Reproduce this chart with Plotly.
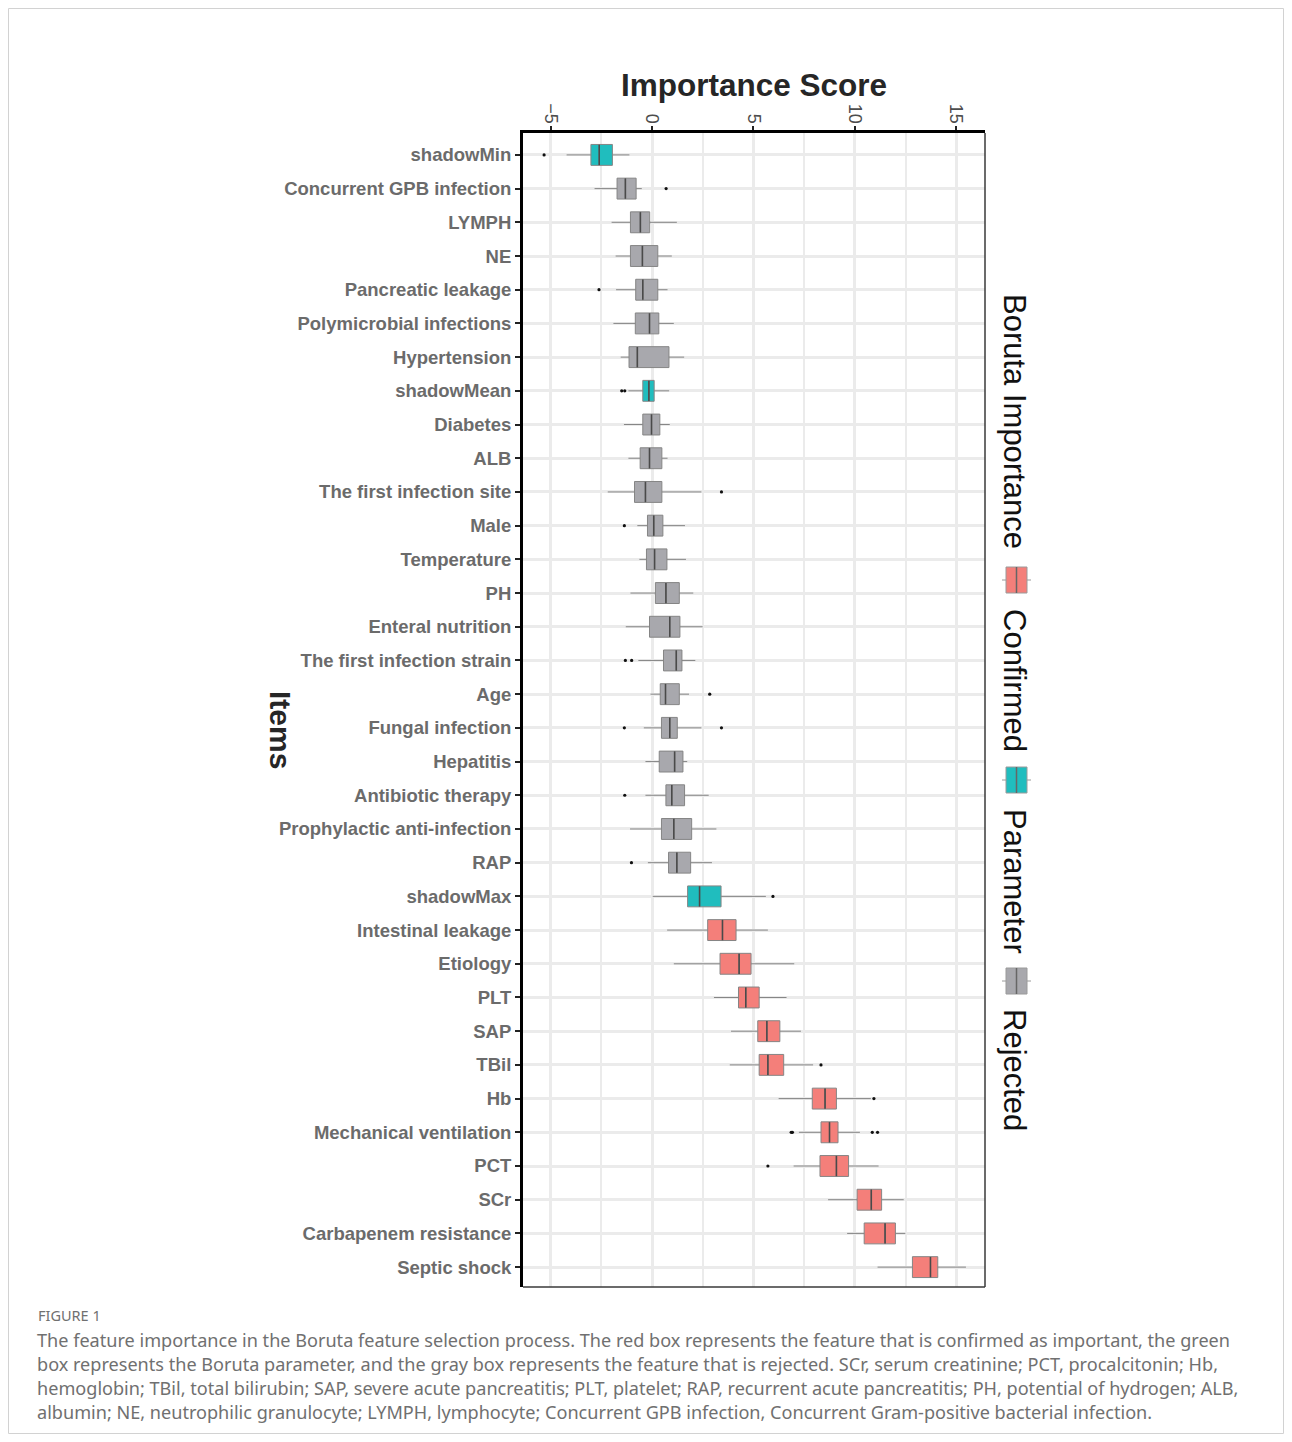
import plotly.graph_objects as go

# ---------------- data ----------------
items = ["shadowMin", "Concurrent GPB infection", "LYMPH", "NE", "Pancreatic leakage",
         "Polymicrobial infections", "Hypertension", "shadowMean", "Diabetes", "ALB",
         "The first infection site", "Male", "Temperature", "PH", "Enteral nutrition",
         "The first infection strain", "Age", "Fungal infection", "Hepatitis",
         "Antibiotic therapy", "Prophylactic anti-infection", "RAP", "shadowMax",
         "Intestinal leakage", "Etiology", "PLT", "SAP", "TBil", "Hb",
         "Mechanical ventilation", "PCT", "SCr", "Carbapenem resistance", "Septic shock"]

decision = (["Parameter"] + ["Rejected"] * 6 + ["Parameter"] + ["Rejected"] * 14 +
            ["Parameter"] + ["Confirmed"] * 11)

lower_whisker = [-4.22, -2.84, -2.00, -1.80, -1.78, -1.91, -1.55, -1.17, -1.39, -1.17,
                 -2.19, -0.73, -0.63, -1.07, -1.30, -0.68, -0.08, -0.41, -0.33, -0.33,
                 -1.09, -0.21, 0.03, 0.74, 1.07, 3.05, 3.89, 3.83, 6.24, 7.24,
                 6.98, 8.68, 9.62, 11.12]
q1 = [-3.02, -1.73, -1.07, -1.07, -0.81, -0.83, -1.14, -0.46, -0.46, -0.59,
      -0.87, -0.23, -0.28, 0.16, -0.13, 0.56, 0.40, 0.46, 0.35, 0.68,
      0.46, 0.81, 1.75, 2.74, 3.35, 4.26, 5.21, 5.28, 7.90, 8.33,
      8.28, 10.11, 10.46, 12.84]
median = [-2.61, -1.32, -0.58, -0.48, -0.46, -0.13, -0.73, -0.16, -0.03, -0.13,
          -0.33, 0.08, 0.12, 0.68, 0.87, 1.19, 0.66, 0.87, 1.11, 0.97,
          1.07, 1.22, 2.34, 3.47, 4.29, 4.62, 5.66, 5.71, 8.53, 8.75,
          9.09, 10.81, 11.49, 13.73]
q3 = [-1.96, -0.79, -0.12, 0.28, 0.28, 0.33, 0.83, 0.10, 0.38, 0.48,
      0.48, 0.53, 0.73, 1.34, 1.37, 1.47, 1.34, 1.24, 1.52, 1.60,
      1.95, 1.90, 3.40, 4.14, 4.88, 5.28, 6.30, 6.49, 9.09, 9.17,
      9.69, 11.32, 12.00, 14.09]
upper_whisker = [-1.12, -0.51, 1.22, 0.97, 0.76, 1.07, 1.58, 0.84, 0.87, 0.76,
                 2.43, 1.62, 1.67, 2.03, 2.49, 2.13, 1.82, 2.43, 1.73, 2.79,
                 3.17, 2.95, 5.61, 5.71, 7.01, 6.63, 7.34, 7.94, 10.79, 10.25,
                 11.17, 12.41, 12.49, 15.48]

outlier_items = ["shadowMin", "Concurrent GPB infection", "Pancreatic leakage",
                 "shadowMean", "shadowMean", "The first infection site", "Male",
                 "The first infection strain", "The first infection strain", "Age",
                 "Fungal infection", "Fungal infection", "Antibiotic therapy", "RAP",
                 "shadowMax", "TBil", "Hb", "Mechanical ventilation",
                 "Mechanical ventilation", "Mechanical ventilation",
                 "Mechanical ventilation", "PCT"]
outlier_values = [-5.33, 0.69, -2.62, -1.50, -1.35, 3.42, -1.37, -1.32, -1.01, 2.84,
                  -1.37, 3.42, -1.35, -1.02, 5.96, 8.33, 10.94, 6.86, 6.92, 10.86,
                  11.12, 5.71]

x_ticks = [-5, 0, 5, 10, 15]
legend_groups = ["Confirmed", "Parameter", "Rejected"]

caption_lines = [
    "The feature importance in the Boruta feature selection process. The red box represents the feature that is confirmed as important, the green",
    "box represents the Boruta parameter, and the gray box represents the feature that is rejected. SCr, serum creatinine; PCT, procalcitonin; Hb,",
    "hemoglobin; TBil, total bilirubin; SAP, severe acute pancreatitis; PLT, platelet; RAP, recurrent acute pancreatitis; PH, potential of hydrogen; ALB,",
    "albumin; NE, neutrophilic granulocyte; LYMPH, lymphocyte; Concurrent GPB infection, Concurrent Gram-positive bacterial infection.",
]

# ---------------- style ----------------
fill_colors = {"Confirmed": "#F47F7A", "Parameter": "#20BDBE", "Rejected": "#A8A8AD"}
FONT = "Liberation Sans, Arial, Helvetica, sans-serif"
W, H = 1276, 1426
ML, MT = 515, 125
PW, PH_ = 462, 1154


def px(x):  # page x pixel -> paper
    return (x - 523) / PW


def py(y):  # page y pixel -> paper
    return (1287 - y) / PH_


fig = go.Figure()

for grp in legend_groups:
    idx = [i for i, d in enumerate(decision) if d == grp]
    fig.add_trace(go.Box(
        y=[items[i] for i in idx],
        q1=[q1[i] for i in idx],
        median=[median[i] for i in idx],
        q3=[q3[i] for i in idx],
        lowerfence=[lower_whisker[i] for i in idx],
        upperfence=[upper_whisker[i] for i in idx],
        orientation="h",
        fillcolor=fill_colors[grp],
        line=dict(color="#858585", width=1),
        whiskerwidth=0,
        boxpoints=False,
        width=0.62,
        showlegend=False,
        hoverinfo="skip",
    ))

# median lines (darker)
fig.add_trace(go.Scatter(
    x=median, y=items, mode="markers",
    marker=dict(symbol="line-ns", size=14.5, line=dict(color="#4a4a4a", width=1.6)),
    showlegend=False, hoverinfo="skip",
))

# outliers
fig.add_trace(go.Scatter(
    x=outlier_values, y=outlier_items, mode="markers",
    marker=dict(color="#111111", size=3.2),
    showlegend=False, hoverinfo="skip",
))

fig.update_layout(
    width=W, height=H,
    margin=dict(l=ML, r=W - ML - PW, t=MT, b=H - MT - PH_, pad=0),
    paper_bgcolor="white", plot_bgcolor="white",
    font=dict(family=FONT),
    boxmode="overlay",
)

fig.update_xaxes(
    side="top", range=[-6.37, 16.42],
    tickvals=x_ticks, ticktext=["\u22125", "0", "5", "10", "15"],
    tickangle=90, tickfont=dict(size=18, color="#4d4d4d"),
    ticks="outside", ticklen=4, tickwidth=2, tickcolor="#222",
    ticklabelstandoff=-4,
    showline=True, linecolor="black", linewidth=3,
    showgrid=True, gridcolor="#EBEBEB", gridwidth=3,
    minor=dict(tick0=-2.5, dtick=5, showgrid=True, gridcolor="#EBEBEB", gridwidth=1.6),
    zeroline=False,
)
fig.update_yaxes(
    type="category", categoryorder="array", categoryarray=items,
    range=[33.59, -0.65],
    tickfont=dict(size=18.5, color="#6b6b6b", weight="bold"),
    ticks="outside", ticklen=5, tickwidth=2, tickcolor="#222",
    showline=True, linecolor="black", linewidth=3,
    showgrid=True, gridcolor="#EBEBEB", gridwidth=3,
    zeroline=False,
)

shapes = []
# right and bottom panel border
shapes.append(dict(type="line", xref="paper", yref="paper", x0=1, x1=1, y0=0, y1=1,
                   line=dict(color="#3a3a3a", width=1.5)))
shapes.append(dict(type="line", xref="paper", yref="paper", x0=0, x1=1, y0=0, y1=0,
                   line=dict(color="#3a3a3a", width=1.5)))
# outer frame
shapes.append(dict(type="rect", xref="paper", yref="paper",
                   x0=px(8.5), x1=px(1283.5), y0=py(1433.5), y1=py(8.5),
                   line=dict(color="#d2d2d2", width=1)))

annotations = []
annotations.append(dict(text="<b>Importance Score</b>", xref="paper", yref="paper",
                        x=px(754), y=py(85), showarrow=False, xanchor="center", yanchor="middle",
                        font=dict(size=31.5, color="#262626", family=FONT)))
annotations.append(dict(text="<b>Items</b>", xref="paper", yref="paper",
                        x=px(281), y=py(730), showarrow=False, textangle=90,
                        xanchor="center", yanchor="middle",
                        font=dict(size=30, color="#262626", family=FONT)))
annotations.append(dict(text="Boruta Importance", xref="paper", yref="paper",
                        x=px(1015), y=py(421), showarrow=False, textangle=90,
                        xanchor="center", yanchor="middle",
                        font=dict(size=31, color="#111111", family=FONT)))

legend_text_y = {"Confirmed": 680, "Parameter": 881, "Rejected": 1070}
legend_key_y = {"Confirmed": 580, "Parameter": 780, "Rejected": 981}
for grp in legend_groups:
    annotations.append(dict(text=grp, xref="paper", yref="paper",
                            x=px(1015), y=py(legend_text_y[grp]), showarrow=False,
                            textangle=90, xanchor="center", yanchor="middle",
                            font=dict(size=31, color="#111111", family=FONT)))
    yc = legend_key_y[grp]
    shapes.append(dict(type="line", xref="paper", yref="paper",
                       x0=px(1002), x1=px(1031), y0=py(yc), y1=py(yc),
                       line=dict(color="#9a9a9a", width=1)))
    shapes.append(dict(type="rect", xref="paper", yref="paper",
                       x0=px(1006), x1=px(1027), y0=py(yc + 13), y1=py(yc - 13),
                       fillcolor=fill_colors[grp], line=dict(color="#9a9a9a", width=1)))
    shapes.append(dict(type="line", xref="paper", yref="paper",
                       x0=px(1016.5), x1=px(1016.5), y0=py(yc + 13), y1=py(yc - 13),
                       line=dict(color="#666666", width=1.5)))

annotations.append(dict(text="FIGURE 1", xref="paper", yref="paper",
                        x=px(36), y=py(1315), showarrow=False, xanchor="left", yanchor="middle",
                        font=dict(size=14.5, color="#707070", family="Noto Sans")))
for k, line in enumerate(caption_lines):
    annotations.append(dict(text=line, xref="paper", yref="paper",
                            x=px(35), y=py(1340 + 24 * k), showarrow=False,
                            xanchor="left", yanchor="middle",
                            font=dict(size=18.1, color="#707070", family="Noto Sans")))

fig.update_layout(shapes=shapes, annotations=annotations)

fig.write_html("out.html")
